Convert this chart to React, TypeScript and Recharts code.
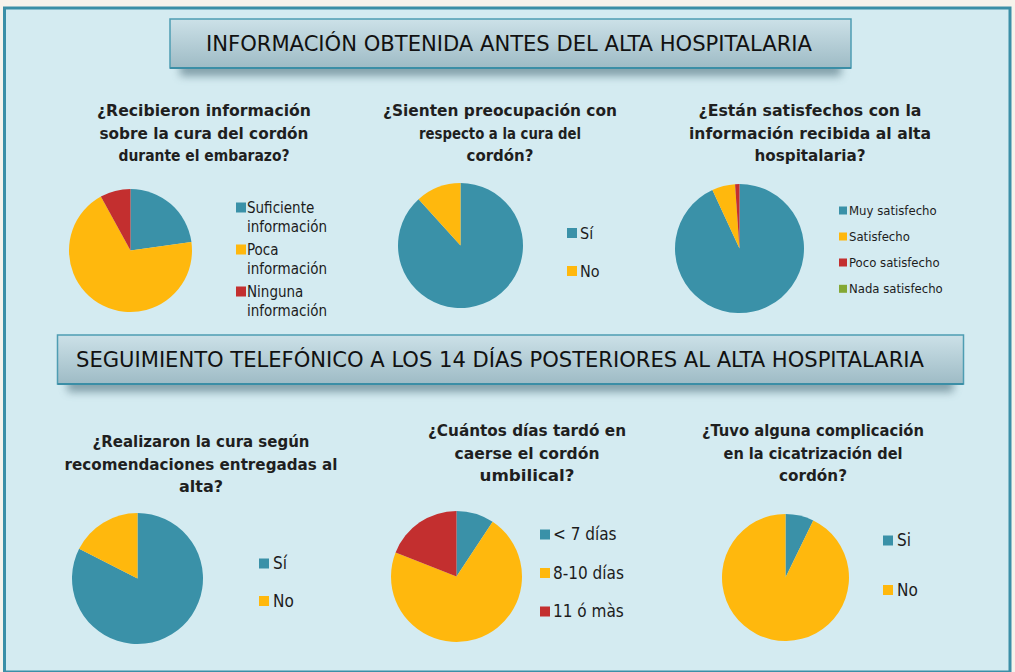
import React from 'react';
import { PieChart, Pie, Cell } from 'recharts';

const TEAL = '#3a91a8';
const YELLOW = '#ffb80d';
const RED = '#c32f2f';
const GREEN = '#84a834';

const recibieronLabels = ['Suficiente información', 'Poca información', 'Ninguna información'];
const recibieronValues = [22.8, 69.2, 8.0];
const preocupacionLabels = ['Sí', 'No'];
const preocupacionValues = [88.3, 11.7];
const satisfechosLabels = ['Muy satisfecho', 'Satisfecho', 'Poco satisfecho', 'Nada satisfecho'];
const satisfechosValues = [93.1, 5.8, 1.1, 0];
const curaLabels = ['Sí', 'No'];
const curaValues = [82.5, 17.5];
const diasLabels = ['< 7 días', '8-10 días', '11 ó màs'];
const diasValues = [9.3, 71.7, 19.0];
const complicacionLabels = ['Si', 'No'];
const complicacionValues = [7.2, 92.8];

const bannerTop = 'INFORMACIÓN OBTENIDA ANTES DEL ALTA HOSPITALARIA';
const bannerBottom = 'SEGUIMIENTO TELEFÓNICO A LOS 14 DÍAS POSTERIORES AL ALTA HOSPITALARIA';

const titles = [
  { cx: 204, base: 116, lines: ['¿Recibieron información', 'sobre la cura del cordón', 'durante el embarazo?'], w: [214, 209, 171] },
  { cx: 500, base: 116, lines: ['¿Sienten preocupación con', 'respecto a la cura del', 'cordón?'], w: [234, 162, 67] },
  { cx: 810, base: 116, lines: ['¿Están satisfechos con la', 'información recibida al alta', 'hospitalaria?'], w: [223, 242, 111] },
  { cx: 201, base: 447, lines: ['¿Realizaron la cura según', 'recomendaciones entregadas al', 'alta?'], w: [217, 273, 44] },
  { cx: 527, base: 436, lines: ['¿Cuántos días tardó en', 'caerse el cordón', 'umbilical?'], w: [198, 145, 95] },
  { cx: 813, base: 436, lines: ['¿Tuvo alguna complicación', 'en la cicatrización del', 'cordón?'], w: [222, 179, 68] },
];

const FONT = "'DejaVu Sans Condensed', 'DejaVu Sans', sans-serif";

type LegendSpec = {
  labels: string[];
  colors: string[];
  sqX: number;
  sq: number;
  textX: number;
  bases: number[];
  fs: number;
  wrap?: boolean;
};

function Legend({ spec }: { spec: LegendSpec }) {
  return (
    <g>
      {spec.labels.map((lab, i) => {
        const lines = spec.wrap ? lab.split(' ') : [lab];
        const b = spec.bases[i];
        return (
          <g key={i}>
            <rect x={spec.sqX} y={b - spec.sq - 0.5} width={spec.sq} height={spec.sq} fill={spec.colors[i]} />
            {lines.map((ln, j) => (
              <text key={j} x={spec.textX} y={b + j * 18.5} fontSize={spec.fs} fill="#1c1c1c" fontFamily={FONT}>
                {ln}
              </text>
            ))}
          </g>
        );
      })}
    </g>
  );
}

function PieBox({ cx, cy, r, labels, values, colors }: { cx: number; cy: number; r: number; labels: string[]; values: number[]; colors: string[] }) {
  const data = labels.map((name, i) => ({ name, value: values[i] }));
  const size = 2 * r + 4;
  return (
    <div style={{ position: 'absolute', left: cx - size / 2, top: cy - size / 2, width: size, height: size }}>
      <PieChart width={size} height={size} margin={{ top: 0, left: 0, right: 0, bottom: 0 }}>
        <Pie data={data} dataKey="value" nameKey="name" cx="50%" cy="50%" outerRadius={r} startAngle={90} endAngle={-270} stroke="none" isAnimationActive={false}>
          {data.map((d, i) => (
            <Cell key={i} fill={colors[i]} />
          ))}
        </Pie>
      </PieChart>
    </div>
  );
}

function Banner({ x, y, w, h, text, tx, tw, fs, id }: { x: number; y: number; w: number; h: number; text: string; tx: number; tw: number; fs: number; id: string }) {
  return (
    <g>
      <rect x={x + 10} y={y + h - 6} width={w - 20} height={14} fill="#5f7f8a" opacity={0.7} filter="url(#blur)" />
      <rect x={x} y={y} width={w} height={h} fill={`url(#${id})`} stroke="#4e9db3" strokeWidth={1.5} />
      <line x1={x} y1={y + h} x2={x + w} y2={y + h} stroke="#3b8ea6" strokeWidth={2} />
      <text x={tx} y={y + h / 2 + fs * 0.36} fontSize={fs} fill="#111" fontFamily={FONT} textLength={tw} lengthAdjust="spacingAndGlyphs">
        {text}
      </text>
    </g>
  );
}

export default function App() {
  const legends: LegendSpec[] = [
    { labels: recibieronLabels, colors: [TEAL, YELLOW, RED], sqX: 236, sq: 10, textX: 247, bases: [213, 255, 297], fs: 15, wrap: true },
    { labels: preocupacionLabels, colors: [TEAL, YELLOW], sqX: 567, sq: 10, textX: 580, bases: [238.5, 276.5], fs: 16 },
    { labels: satisfechosLabels, colors: [TEAL, YELLOW, RED, GREEN], sqX: 839, sq: 8, textX: 849, bases: [215, 241, 267, 293.3], fs: 13 },
    { labels: curaLabels, colors: [TEAL, YELLOW], sqX: 259, sq: 10, textX: 273, bases: [569, 606.5], fs: 17 },
    { labels: diasLabels, colors: [TEAL, YELLOW, RED], sqX: 540, sq: 10, textX: 553, bases: [540, 578.5, 617], fs: 17 },
    { labels: complicacionLabels, colors: [TEAL, YELLOW], sqX: 883, sq: 10, textX: 897, bases: [546, 595.5], fs: 17 },
  ];
  return (
    <div style={{ position: 'absolute', left: 0, top: 0, width: 1015, height: 672, background: '#f6f3ec', overflow: 'hidden' }}>
      <svg width={1015} height={672} style={{ position: 'absolute', left: 0, top: 0 }}>
        <defs>
          <linearGradient id="bg1" x1="0" y1="0" x2="0" y2="1">
            <stop offset="0" stopColor="#cce1e8" />
            <stop offset="1" stopColor="#9ebbc5" />
          </linearGradient>
          <linearGradient id="bg2" x1="0" y1="0" x2="0" y2="1">
            <stop offset="0" stopColor="#cce1e8" />
            <stop offset="1" stopColor="#9ebbc5" />
          </linearGradient>
          <filter id="blur" x="-10%" y="-100%" width="120%" height="300%">
            <feGaussianBlur stdDeviation="4" />
          </filter>
        </defs>
        <rect x={4.5} y={8} width={1005.5} height={664} fill="#d4ebf1" stroke="#3b8fa7" strokeWidth={3} />
        <Banner id="bg1" x={170} y={19} w={681} h={49} text={bannerTop} tx={206} tw={606} fs={22} />
        <Banner id="bg2" x={57.5} y={335} w={906} h={49} text={bannerBottom} tx={76} tw={848} fs={22} />
        {titles.map((t, i) => (
          <g key={i}>
            {t.lines.map((ln, j) => (
              <text key={j} x={t.cx} y={t.base + j * 22.5} textAnchor="middle" fontSize={16.5} fontWeight="bold" fill="#1f1f1f" fontFamily={FONT} textLength={t.w[j]} lengthAdjust="spacingAndGlyphs">
                {ln}
              </text>
            ))}
          </g>
        ))}
        {legends.map((l, i) => (
          <Legend key={i} spec={l} />
        ))}
      </svg>
      <PieBox cx={130.5} cy={250.5} r={61.5} labels={recibieronLabels} values={recibieronValues} colors={[TEAL, YELLOW, RED]} />
      <PieBox cx={460.5} cy={245.5} r={62.5} labels={preocupacionLabels} values={preocupacionValues} colors={[TEAL, YELLOW]} />
      <PieBox cx={739.5} cy={248.5} r={64.5} labels={satisfechosLabels} values={satisfechosValues} colors={[TEAL, YELLOW, RED, GREEN]} />
      <PieBox cx={137.5} cy={578} r={65.5} labels={curaLabels} values={curaValues} colors={[TEAL, YELLOW]} />
      <PieBox cx={456.5} cy={576.5} r={65.5} labels={diasLabels} values={diasValues} colors={[TEAL, YELLOW, RED]} />
      <PieBox cx={785.5} cy={577.5} r={63.5} labels={complicacionLabels} values={complicacionValues} colors={[TEAL, YELLOW]} />
    </div>
  );
}
